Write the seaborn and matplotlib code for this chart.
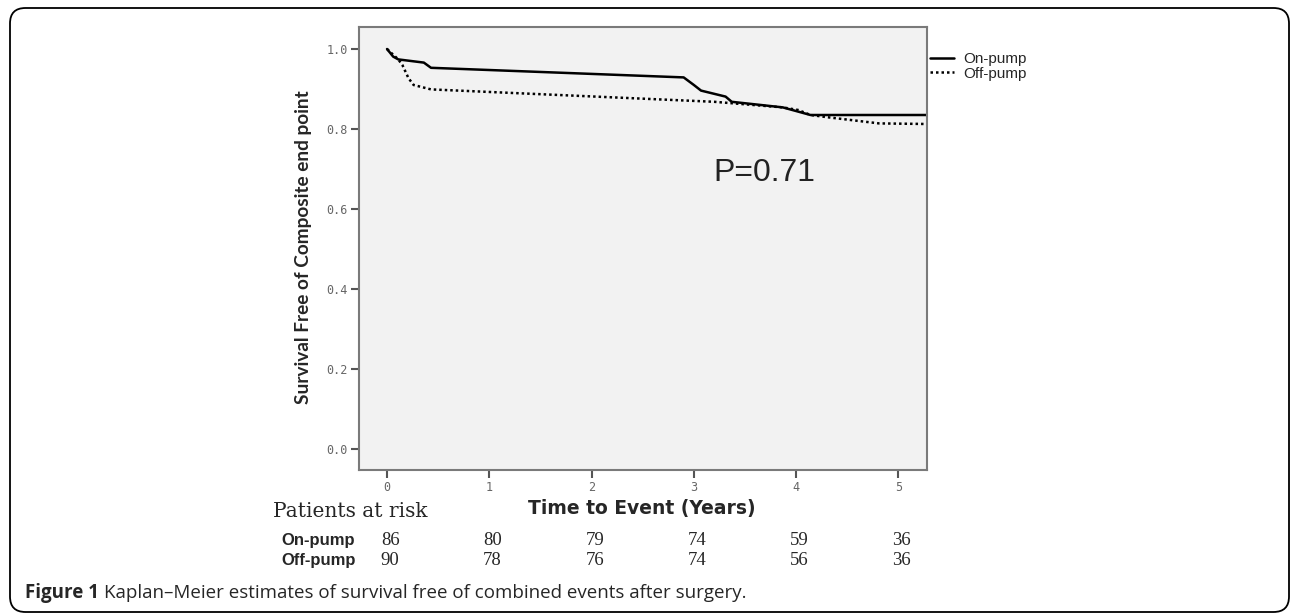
import matplotlib
matplotlib.use("Agg")
import matplotlib.pyplot as plt  # noqa: E402
from matplotlib.patches import FancyBboxPatch  # noqa: E402
from matplotlib.transforms import blended_transform_factory  # noqa: E402
import pandas as pd  # noqa: E402
import seaborn as sns  # noqa: E402

# Kaplan-Meier curves (years, survival)
on_pump_time = [0.0, 0.06, 0.11, 0.36, 0.43, 2.90, 3.00, 3.07, 3.31, 3.37, 3.87, 4.14, 5.28]
on_pump_surv = [1.0, 0.981, 0.974, 0.966, 0.953, 0.929, 0.910, 0.896, 0.881, 0.868, 0.854, 0.835, 0.835]
off_pump_time = [0.0, 0.11, 0.15, 0.21, 0.26, 0.43, 3.20, 3.87, 4.02, 4.14, 4.32, 4.81, 5.28]
off_pump_surv = [1.0, 0.974, 0.960, 0.927, 0.910, 0.899, 0.868, 0.854, 0.8475, 0.835, 0.829, 0.814, 0.8125]

groups = ["On-pump", "Off-pump"]
risk_years = [0, 1, 2, 3, 4, 5]
on_pump_risk = [86, 80, 79, 74, 59, 36]
off_pump_risk = [90, 78, 76, 74, 56, 36]
y_ticks = [0.0, 0.2, 0.4, 0.6, 0.8, 1.0]

W, H = 1290, 613


def fx(px):
    return px / W


def fy(py):
    return 1 - py / H


df = pd.concat([
    pd.DataFrame({"time": on_pump_time, "surv": on_pump_surv, "group": groups[0]}),
    pd.DataFrame({"time": off_pump_time, "surv": off_pump_surv, "group": groups[1]}),
])

sns.set_theme(style="white")
fig = plt.figure(figsize=(W / 100, H / 100), dpi=100)
ax = fig.add_axes([fx(359), fy(470), fx(927) - fx(359), fy(27) - fy(470)])
ax.set_facecolor("#f2f2f2")

sns.lineplot(
    data=df, x="time", y="surv", style="group", style_order=groups,
    dashes={"On-pump": "", "Off-pump": (1, 1.2)}, color="black",
    estimator=None, sort=False, linewidth=1.8, ax=ax, legend=False,
)

ax.set_xlim(-0.274, 5.279)
ax.set_ylim(-0.0525, 1.055)
ax.set_xticks(risk_years)
ax.set_xticklabels([str(v) for v in risk_years])
ax.set_yticks(y_ticks)
ax.set_yticklabels([f"{v:.1f}" for v in y_ticks])
ax.set_xlabel("")
ax.set_ylabel("")
ax.tick_params(axis="both", which="both", direction="out", length=6, width=1.5,
               color="#555555", labelcolor="#666666", labelsize=8.5, pad=2,
               bottom=True, left=True)
for lab in ax.get_xticklabels() + ax.get_yticklabels():
    lab.set_family("DejaVu Sans Mono")
for sp in ax.spines.values():
    sp.set_color("#7a7a7a")
    sp.set_linewidth(1.5)

# legend outside the plot
handles = [
    plt.Line2D([], [], color="black", lw=1.8),
    plt.Line2D([], [], color="black", lw=1.8, dashes=(1, 1.2)),
]
fig.legend(handles, groups, loc="upper left", bbox_to_anchor=(fx(930), fy(52)),
           frameon=False, borderpad=0, borderaxespad=0, handlelength=1.6,
           handletextpad=0.6, labelspacing=0.05,
           prop={"family": "Liberation Sans", "size": 11})

ax.text(0.713, 0.67, "P=0.71", transform=ax.transAxes, ha="center", va="center",
        fontsize=23, family="Liberation Sans", color="#222222")

# axis labels
fig.text(fx(303), fy(247), "Survival Free of Composite end point", rotation=90,
         ha="center", va="center", fontsize=13.7, fontweight="bold", family="Lato")
fig.text(fx(642), fy(514), "Time to Event (Years)", ha="center", va="baseline",
         fontsize=13.5, fontweight="bold", family="DejaVu Sans")

# patients at risk table
fig.text(fx(273), fy(517), "Patients at risk", ha="left", va="baseline",
         fontsize=14.5, family="DejaVu Serif")
fig.text(fx(281), fy(545), "On-pump", ha="left", va="baseline",
         fontsize=12, fontweight="bold", family="Liberation Sans")
fig.text(fx(281), fy(565), "Off-pump", ha="left", va="baseline",
         fontsize=12, fontweight="bold", family="Liberation Sans")
tr = blended_transform_factory(ax.transData, fig.transFigure)
for yr, n_on, n_off in zip(risk_years, on_pump_risk, off_pump_risk):
    fig.text(yr + 0.03, fy(545), str(n_on), transform=tr, ha="center", va="baseline",
             fontsize=13.5, family="Liberation Serif")
    fig.text(yr + 0.03, fy(565), str(n_off), transform=tr, ha="center", va="baseline",
             fontsize=13.5, family="Liberation Serif")

# caption with bold lead
renderer = fig.canvas.get_renderer()
lead = fig.text(fx(25), fy(598), "Figure 1", ha="left", va="baseline",
                fontsize=13.5, fontweight="bold", family="Open Sans")
bb = lead.get_window_extent(renderer=renderer)
fig.text((bb.x1 + 5) / W, fy(598),
         "Kaplan\u2013Meier estimates of survival free of combined events after surgery.",
         ha="left", va="baseline", fontsize=13.5, family="Open Sans")

# rounded outer frame
frame = FancyBboxPatch((fx(10), fy(612)), fx(1279), fy(8) - fy(612),
                       boxstyle="round,pad=0,rounding_size=0.012",
                       transform=fig.transFigure, fill=False, ec="black", lw=1.3,
                       mutation_aspect=W / H)
fig.patches.append(frame)

fig.savefig("out.png", dpi=100)
